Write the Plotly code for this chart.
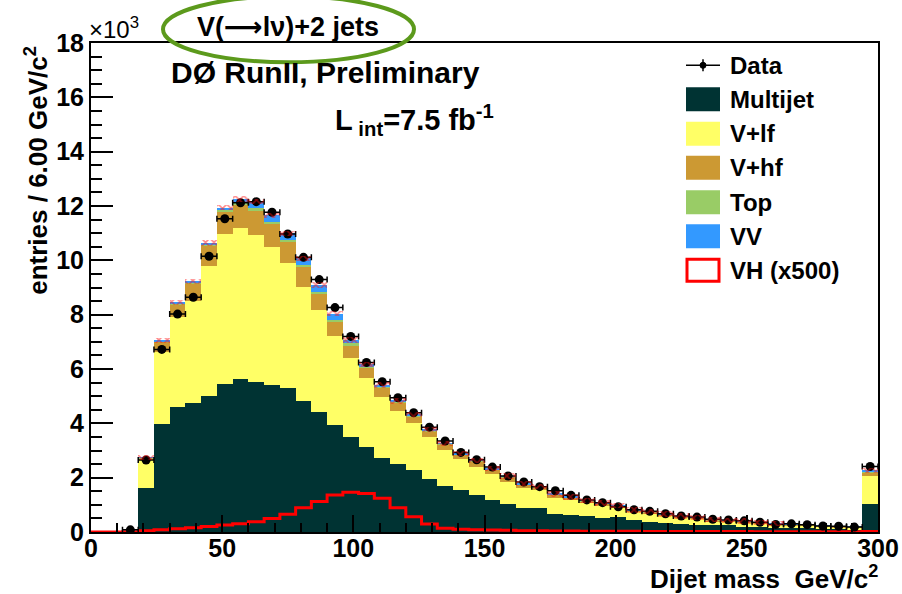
import plotly.graph_objects as go

# ---------------- data (values in units of 10^3 entries) ----------------
bin_edges = list(range(0, 301, 6))
bin_centers = [e + 3 for e in bin_edges[:-1]]

multijet = [0, 0, 0,
            1.62, 3.97, 4.60, 4.75, 5.00, 5.45, 5.63, 5.51, 5.41, 5.29, 4.83, 4.40, 3.94, 3.51, 3.14, 2.73, 2.49, 2.28, 1.95, 1.69, 1.55,
            1.36, 1.18, 1.03, 0.89, 0.89, 0.66, 0.63, 0.58, 0.52, 0.55, 0.43, 0.37, 0.33, 0.28, 0.25, 0.25, 0.24, 0.20, 0.17, 0.16, 0.15, 0.14, 0.13, 0.12, 0.11, 1.02]
v_lf = [0, 0, 0,
        1.04, 2.64, 3.30, 3.76, 4.80, 5.52, 5.56, 5.42, 5.09, 4.62, 4.20, 3.77, 3.27, 2.88, 2.54, 2.25, 1.98, 1.74, 1.56, 1.33, 1.15,
        1.04, 0.94, 0.82, 0.74, 0.66, 0.60, 0.56, 0.49, 0.46, 0.35, 0.31, 0.31, 0.27, 0.25, 0.24, 0.15, 0.14, 0.15, 0.14, 0.11, 0.10, 0.09, 0.07, 0.06, 0.05, 1.03]
v_hf = [0, 0, 0,
        0.06, 0.39, 0.48, 0.64, 0.75, 0.83, 0.86, 0.92, 0.84, 0.75, 0.71, 0.60, 0.53, 0.49, 0.37, 0.34, 0.28, 0.24, 0.20, 0.20, 0.15,
        0.20, 0.17, 0.17, 0.12, 0.10, 0.12, 0.08, 0.07, 0.06, 0.05, 0.05, 0.05, 0.04, 0.04, 0.03, 0.04, 0.04, 0.04, 0.04, 0.03, 0.03, 0.03, 0.03, 0.03, 0.03, 0.15]
top = [0, 0, 0,
       0.01, 0.02, 0.02, 0.03, 0.03, 0.04, 0.05, 0.06, 0.07, 0.08, 0.08, 0.08, 0.08, 0.07, 0.05, 0.04, 0.04, 0.03, 0.03, 0.02, 0.02,
       0.02, 0.02, 0.02, 0.015, 0.015, 0.01, 0.01, 0.01, 0.01, 0.01, 0.01, 0.01, 0.01, 0.01, 0.005, 0.005, 0.005, 0.005, 0.005, 0.005, 0.005, 0.005, 0.005, 0.005, 0.005, 0.03]
vv = [0, 0, 0,
      0.02, 0.03, 0.04, 0.05, 0.06, 0.10, 0.15, 0.25, 0.25, 0.25, 0.25, 0.24, 0.22, 0.12, 0.07, 0.05, 0.04, 0.03, 0.03, 0.02, 0.02,
      0.02, 0.02, 0.015, 0.015, 0.01, 0.01, 0.01, 0.01, 0.01, 0.01, 0.01, 0.01, 0.01, 0.005, 0.005, 0.005, 0.005, 0.005, 0.005, 0.005, 0.005, 0.005, 0.005, 0.005, 0.005, 0.03]
vh_x500 = [0, 0, 0.01,
           0.05, 0.08, 0.12, 0.16, 0.20, 0.26, 0.30, 0.38, 0.50, 0.65, 0.89, 1.12, 1.36, 1.46, 1.42, 1.24, 0.89, 0.56, 0.29, 0.14, 0.10,
           0.08, 0.07, 0.06, 0.05, 0.05, 0.04, 0.04, 0.03, 0.03, 0.03, 0.03, 0.02, 0.02, 0.02, 0.02, 0.02, 0.02, 0.02, 0.01, 0.01, 0.01, 0.01, 0.01, 0.01, 0.01, 0.02]
data = [None, None, 0.08,
        2.65, 6.72, 8.02, 8.64, 10.15, 11.53, 12.12, 12.16, 11.77, 10.97, 10.11, 9.29, 8.26, 7.20, 6.24, 5.53, 4.94, 4.39, 3.86, 3.35, 2.93,
        2.66, 2.39, 2.06, 1.84, 1.67, 1.52, 1.35, 1.18, 1.08, 0.93, 0.82, 0.76, 0.67, 0.59, 0.55, 0.47, 0.44, 0.41, 0.36, 0.28, 0.30, 0.27, 0.22, 0.21, 0.18, 2.41]

y_ticks = [0, 2, 4, 6, 8, 10, 12, 14, 16, 18]
x_ticks = [0, 50, 100, 150, 200, 250, 300]

components = [
    ("Multijet", multijet, "#003333"),
    ("V+lf", v_lf, "#ffff66"),
    ("V+hf", v_hf, "#cc9933"),
    ("Top", top, "#99cc66"),
    ("VV", vv, "#3399ff"),
]

# ---------------- figure ----------------
W, H = 902, 594
L_PX, R_PX, T_PX, B_PX = 91, 878, 42.7, 531.7

def px(x):
    return (x - L_PX) / (R_PX - L_PX)

def py(y):
    return (B_PX - y) / (B_PX - T_PX)

fig = go.Figure()
for name, vals, col in components:
    fig.add_trace(go.Bar(x=bin_centers, y=vals, width=6, name=name,
                         marker=dict(color=col, line=dict(width=0)),
                         showlegend=False))

# red cross-hatched band on top of the total expectation (own axis so it is not stacked)
total_mc = [sum(v) for v in zip(multijet, v_lf, v_hf, top, vv)]
band_h = [0.2 if t > 0.3 else 0.0 for t in total_mc]
fig.add_trace(go.Bar(x=bin_centers, y=band_h, base=[t - 0.1 for t in total_mc], width=6,
                     yaxis="y2", showlegend=False,
                     marker=dict(color="rgba(0,0,0,0)", line=dict(width=0),
                                 pattern=dict(shape="x", fgcolor="#ff1010", bgcolor="rgba(0,0,0,0)",
                                              size=6, solidity=0.45, fillmode="overlay"))))

# VH step outline
fig.add_trace(go.Scatter(x=bin_edges, y=vh_x500 + [vh_x500[-1]], mode="lines",
                         line=dict(color="#ff0000", width=3, shape="hv"),
                         showlegend=False))

# data points
fig.add_trace(go.Scatter(x=bin_centers, y=data, mode="markers",
                         marker=dict(color="black", size=9),
                         error_x=dict(type="constant", value=3, color="black", thickness=1.5, width=3),
                         showlegend=False))

fig.update_layout(
    width=W, height=H,
    margin=dict(l=L_PX, r=W - R_PX, t=T_PX, b=H - B_PX, pad=0, autoexpand=False),
    barmode="stack", bargap=0,
    plot_bgcolor="white", paper_bgcolor="white",
    font=dict(family="Liberation Sans, Arial, sans-serif", color="black"),
    yaxis2=dict(overlaying="y", matches="y", visible=False, range=[0, 18]),
)
fig.update_xaxes(range=[0, 300], tickvals=x_ticks, ticks="inside", ticklen=17, tickwidth=1.5,
                 tickcolor="black", showline=True, linecolor="black", linewidth=2, mirror=True,
                 showgrid=False, zeroline=False, automargin=False, ticklabelstandoff=-7,
                 tickfont=dict(size=25, weight="bold"),
                 minor=dict(dtick=10, ticks="inside", ticklen=9, tickwidth=1.5, tickcolor="black", showgrid=False))
fig.update_layout(yaxis=dict(range=[0, 18], tickvals=y_ticks, ticks="inside", ticklen=22, tickwidth=1.5,
                             tickcolor="black", showline=True, linecolor="black", linewidth=2, mirror=True,
                             showgrid=False, zeroline=False, automargin=False,
                             tickfont=dict(size=25, weight="bold"),
                             minor=dict(dtick=0.5, ticks="inside", ticklen=11, tickwidth=1.5,
                                        tickcolor="black", showgrid=False)))

def ann(text, x, y, size, xanchor="center", yanchor="middle", bold=True, angle=0):
    fig.add_annotation(text=text, x=px(x), y=py(y), xref="paper", yref="paper",
                       xanchor=xanchor, yanchor=yanchor, showarrow=False, textangle=angle,
                       font=dict(size=size, weight="bold" if bold else "normal", color="black"))

ann("×10<sup>3</sup>", 87, 28, 24, xanchor="left", bold=False)
ann("V(<span style='font-family:DejaVu Sans'>⟶</span>lν)+2 jets", 288, 26, 27)
ann("DØ RunII, Preliminary", 325, 72, 30)
ann("L<sub> int</sub>=7.5 fb<sup>-1</sup>", 333, 120, 29, xanchor="left")
ann("entries / 6.00 GeV/c<sup>2</sup>", 37, 44, 26, yanchor="top", angle=-90)
ann("Dijet mass&nbsp; GeV/c<sup>2</sup>", 880, 577, 26, xanchor="right")

# green ellipse around the channel label
fig.add_shape(type="circle", xref="paper", yref="paper",
              x0=px(163), x1=px(414), y0=py(62), y1=py(-4),
              line=dict(color="#5c9a1c", width=4), fillcolor="rgba(0,0,0,0)")

# legend (drawn manually to match box sizes)
leg_rows = [65, 99, 133.5, 167.5, 202, 236, 270]
bx0, bx1 = 686, 720
fig.add_shape(type="line", xref="paper", yref="paper", x0=px(bx0), x1=px(bx1),
              y0=py(leg_rows[0]), y1=py(leg_rows[0]), line=dict(color="black", width=1.5))
fig.add_shape(type="line", xref="paper", yref="paper", x0=px(703), x1=px(703),
              y0=py(leg_rows[0] - 6), y1=py(leg_rows[0] + 6), line=dict(color="black", width=1.5))
fig.add_shape(type="circle", xref="paper", yref="paper", x0=px(700), x1=px(706),
              y0=py(leg_rows[0] - 3), y1=py(leg_rows[0] + 3), fillcolor="black", line=dict(color="black", width=1))
ann("Data", 728, leg_rows[0], 24, xanchor="left")
for (name, _, col), yc in zip(components, leg_rows[1:6]):
    fig.add_shape(type="rect", xref="paper", yref="paper", x0=px(bx0), x1=px(bx1),
                  y0=py(yc - 12), y1=py(yc + 12), fillcolor=col, line=dict(width=0))
    ann(name, 728, yc, 24, xanchor="left")
fig.add_shape(type="rect", xref="paper", yref="paper", x0=px(bx0 + 1), x1=px(bx1 - 1),
              y0=py(leg_rows[6] - 11), y1=py(leg_rows[6] + 11), fillcolor="white",
              line=dict(color="#ff0000", width=3))
ann("VH (x500)", 728, leg_rows[6], 24, xanchor="left")

fig.write_html("out.html", config={"displayModeBar": False},
               post_script="document.body.style.margin='0';")
